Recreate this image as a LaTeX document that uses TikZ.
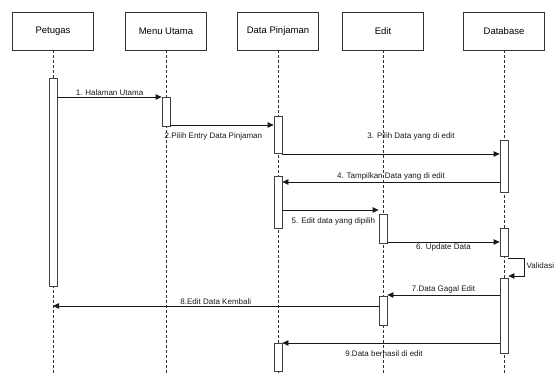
\documentclass[tikz,border=0pt]{standalone}
\usepackage{fontspec}
\setmainfont{Liberation Sans}
\usetikzlibrary{arrows.meta}
\begin{document}
\begin{tikzpicture}[x=1pt,y=-1pt,
  head/.style={draw=black!80,line width=0.8pt,minimum width=81pt,minimum height=38pt,inner sep=0pt,font=\fontsize{9.5}{11}\selectfont},
  act/.style={draw=black!75,line width=0.8pt,fill=white,minimum width=8pt,inner sep=0pt,anchor=north},
  life/.style={black!80,line width=0.7pt,dash pattern=on 3pt off 2pt},
  msg/.style={black!90,line width=0.8pt,-{Triangle[length=6pt,width=5.5pt]}},
  lbl/.style={font=\fontsize{8}{9}\selectfont,text=black!90,inner sep=1.5pt}]
\useasboundingbox (0,0) rectangle (558,374);
% heads and lifelines
\node[head] (pet) at (53,31) {Petugas};
\node[head] (menu) at (166,31) {Menu Utama};
\node[head] (dp) at (278,31) {Data Pinjaman};
\node[head] (edit) at (383,31) {Edit};
\node[head] (db) at (504,31) {Database};
\foreach \h in {pet,menu,dp,edit,db}
  \draw[life] (\h.south) -- (\h |- 0,374);
% activations
\node[act,minimum height=208pt] (pa1) at (53,78) {};
\node[act,minimum height=29pt] (ma1) at (166,97) {};
\node[act,minimum height=37pt] (da1) at (278,116) {};
\node[act,minimum height=52pt] (da2) at (278,176) {};
\node[act,minimum height=28pt] (da3) at (278,343) {};
\node[act,minimum height=29pt] (ea1) at (383,214) {};
\node[act,minimum height=29pt] (ea2) at (383,296) {};
\node[act,minimum height=52pt] (ba1) at (504,140) {};
\node[act,minimum height=28pt] (ba2) at (504,228) {};
\node[act,minimum height=75pt] (ba3) at (504,278) {};
% messages
\draw[msg] (pa1.east |- 0,97) -- node[lbl,above] (m1) {1. Halaman Utama} (ma1.west |- 0,97);
\draw[msg] (ma1.east |- 0,125) -- (da1.west |- 0,125);
\node[lbl,anchor=west] (m2) at (163,136) {2.Pilih Entry Data Pinjaman};
\draw[msg] (da1.east |- 0,154) -- (ba1.west |- 0,154);
\node[lbl] (m3) at (411,136) {3. Pilih Data yang di edit};
\draw[msg] (ba1.west |- 0,182) -- node[lbl,above] (m4) {4. Tampilkan Data yang di edit} (da2.east |- 0,182);
\draw[msg] (da2.east |- 0,210) -- (ea1.west |- 0,210);
\node[lbl,anchor=west] (m5) at (290,221) {5. Edit data yang dipilih};
\draw[msg] (ea1.east |- 0,242) -- node[lbl,below] (m6) {6. Update Data} (ba2.west |- 0,242);
\draw[msg] (ba2.east |- 0,258) -- (524,258) -- (524,276) -- (ba3.east |- 0,276);
\node[lbl,anchor=west] (val) at (525,266) {Validasi};
\draw[msg] (ba3.west |- 0,295) -- node[lbl,above] (m7) {7.Data Gagal Edit} (ea2.east |- 0,295);
\draw[msg] (ea2.west |- 0,306) -- node[lbl,above] (m8) {8.Edit Data Kembali} (pet |- 0,306);
\draw[msg] (ba3.west |- 0,343) -- (da3.east |- 0,343);
\node[lbl] (m9) at (384,354) {9.Data berhasil di edit};
\end{tikzpicture}
\end{document}
